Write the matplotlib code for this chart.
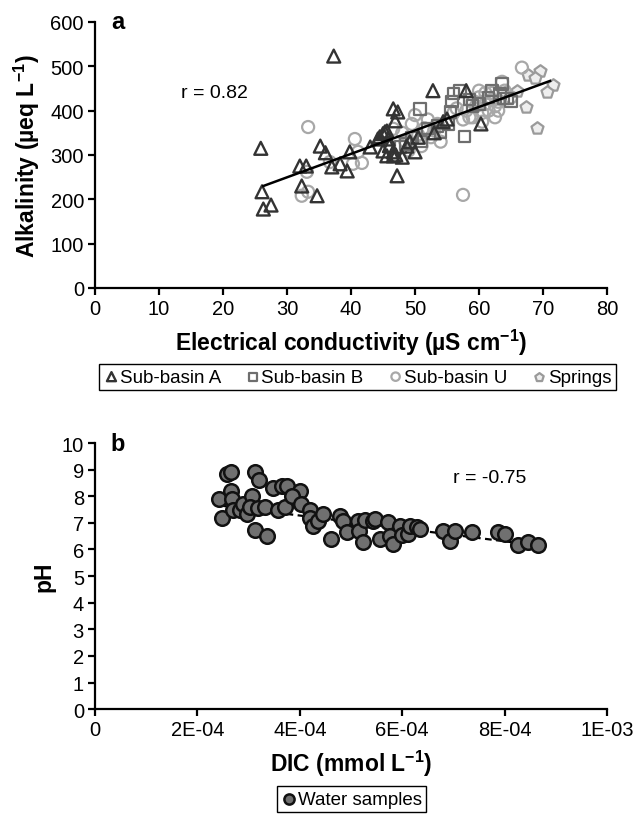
import matplotlib
matplotlib.use("Agg")
import matplotlib.pyplot as plt
import numpy as np

plt.rcParams['font.family'] = ['Liberation Sans', 'DejaVu Sans']
plt.rcParams['mathtext.fontset'] = 'custom'
plt.rcParams['mathtext.rm'] = 'Liberation Sans'
plt.rcParams['mathtext.bf'] = 'Liberation Sans:bold'

# ---- panel a: alkalinity vs electrical conductivity ----
ec_a = [37.3, 25.9, 26.1, 26.3, 27.5, 35.2, 36.0, 32.0, 33.0, 32.3, 34.7, 37.0,
        38.3, 39.4, 39.8, 43.0, 44.2, 45.0, 45.6, 45.8, 46.0, 45.0, 46.6, 46.6,
        47.3, 47.2, 52.8, 46.9, 46.6, 48.7, 50.0, 49.2, 60.3, 58.0, 54.4, 55.0,
        44.5, 45.3, 45.6, 47.0, 48.0, 53.0, 50.5]
alk_a = [523, 315, 217, 178, 187, 320, 305, 275, 275, 230, 208, 273,
         280, 264, 307, 318, 336, 348, 354, 336, 321, 309, 298, 404,
         397, 253, 445, 377, 307, 320, 307, 330, 370, 445, 375, 381,
         341, 352, 298, 300, 295, 350, 340]

ec_b = [47.7, 48.5, 50.8, 55.5, 56.0, 57.0, 55.8, 55.2, 57.7, 63.3, 64.4, 63.6,
        52.0, 53.5, 51.0, 58.5, 60.0, 61.5, 62.0, 59.0, 49.5, 54.0, 65.0, 63.8]
alk_b = [318, 325, 404, 397, 438, 445, 420, 370, 341, 438, 427, 460,
         360, 365, 330, 425, 415, 430, 445, 410, 340, 352, 420, 427]

ec_u = [33.3, 33.1, 32.3, 33.3, 36.7, 40.6, 40.3, 41.1, 41.7, 46.6, 48.0, 48.5,
        49.5, 50.0, 50.5, 51.5, 51.0, 52.0, 52.5, 53.0, 53.5, 54.0, 49.0, 57.5,
        58.0, 58.5, 59.0, 59.5, 60.0, 60.5, 61.0, 61.0, 61.5, 62.0, 62.5, 62.0,
        63.0, 63.6, 63.0, 64.0, 59.0, 57.5, 60.0, 66.7, 65.0, 56.0, 56.5, 62.5, 60.5]
alk_u = [363, 262, 208, 217, 284, 336, 280, 307, 282, 359, 350, 330,
         370, 390, 345, 360, 320, 380, 340, 355, 370, 330, 310, 210,
         400, 385, 420, 410, 430, 395, 440, 415, 400, 425, 410, 440,
         400, 465, 420, 445, 385, 380, 445, 497, 430, 395, 405, 385, 375]

ec_s = [66.0, 67.7, 69.5, 68.8, 71.6, 70.6, 67.3, 69.0]
alk_s = [445, 480, 489, 473, 458, 442, 408, 361]

trend_a_x = [26.3, 71.1]
trend_a_y = [230, 467]

# ---- panel b: pH vs DIC ----
dic = [2.58e-4, 2.66e-4, 3.13e-4, 3.20e-4, 2.42e-4, 2.48e-4, 2.66e-4, 2.68e-4,
       2.70e-4, 2.83e-4, 2.90e-4, 2.97e-4, 3.07e-4, 3.03e-4, 3.18e-4, 3.32e-4,
       3.13e-4, 3.36e-4, 3.48e-4, 3.65e-4, 3.75e-4, 4.00e-4, 3.57e-4, 3.71e-4,
       3.85e-4, 4.02e-4, 4.20e-4, 4.20e-4, 4.26e-4, 4.36e-4, 4.45e-4, 4.60e-4,
       4.78e-4, 4.85e-4, 4.92e-4, 5.14e-4, 5.16e-4, 5.24e-4, 5.27e-4, 5.43e-4,
       5.57e-4, 5.47e-4, 5.72e-4, 5.76e-4, 5.82e-4, 5.96e-4, 6.00e-4, 6.11e-4,
       6.15e-4, 6.29e-4, 6.35e-4, 6.80e-4, 6.93e-4, 7.03e-4, 7.36e-4, 7.87e-4,
       8.00e-4, 8.26e-4, 8.46e-4, 8.65e-4]
ph = [8.83, 8.90, 8.90, 8.60, 7.90, 7.20, 8.20, 7.90,
      7.50, 7.50, 7.70, 7.35, 8.00, 7.60, 7.55, 7.60,
      6.73, 6.50, 8.30, 8.40, 8.40, 8.20, 7.50, 7.60,
      8.00, 7.70, 7.50, 7.20, 6.88, 7.07, 7.33, 6.40,
      7.26, 7.07, 6.66, 7.07, 6.70, 6.28, 7.10, 7.07,
      6.40, 7.14, 7.03, 6.50, 6.20, 6.88, 6.55, 6.58,
      6.88, 6.84, 6.77, 6.70, 6.32, 6.70, 6.66, 6.66,
      6.58, 6.17, 6.28, 6.17]

trend_b_x = [2.45e-4, 8.65e-4]
trend_b_y = [7.65, 6.15]

dic_ticks = [0, 2e-4, 4e-4, 6e-4, 8e-4, 1e-3]
dic_labels = ['0', '2E-04', '4E-04', '6E-04', '8E-04', '1E-03']

fig = plt.figure(figsize=(6.42, 8.2), dpi=100)
ax_a = fig.add_axes([0.148, 0.6476, 0.7975, 0.3244])
ax_b = fig.add_axes([0.148, 0.134, 0.7975, 0.3245])

tick_fs = 14.5
label_fs = 16.5

for ax in (ax_a, ax_b):
    ax.spines['top'].set_visible(False)
    ax.spines['right'].set_visible(False)
    for s in ('left', 'bottom'):
        ax.spines[s].set_linewidth(1.6)
    ax.tick_params(direction='out', length=5, width=1.6, labelsize=tick_fs,
                   colors='black', pad=3)

ms = 75
ax_a.scatter(ec_s, alk_s, marker='p', s=ms * 1.1, facecolors='#eeeeee',
             edgecolors='#9a9a9a', linewidths=1.6, label='Springs', zorder=3)
ax_a.scatter(ec_u, alk_u, marker='o', s=ms, facecolors='none',
             edgecolors='#a8a8a8', linewidths=1.6, label='Sub-basin U', zorder=3)
ax_a.scatter(ec_b, alk_b, marker='s', s=ms * 0.9, facecolors='none',
             edgecolors='#6e6e6e', linewidths=1.6, label='Sub-basin B', zorder=3)
ax_a.scatter(ec_a, alk_a, marker='^', s=ms * 1.15, facecolors='none',
             edgecolors='#333333', linewidths=1.7, label='Sub-basin A', zorder=3)
ax_a.plot(trend_a_x, trend_a_y, color='black', lw=1.8, zorder=4)

ax_a.set_xlim(0, 80)
ax_a.set_ylim(0, 600)
ax_a.set_xticks(range(0, 81, 10))
ax_a.set_yticks(range(0, 601, 100))
ax_a.set_xlabel(r'Electrical conductivity (µS cm$^{\mathbf{-1}}$)',
                fontsize=label_fs, fontweight='bold', labelpad=6)
ax_a.set_ylabel(r'Alkalinity (µeq L$^{\mathbf{-1}}$)',
                fontsize=label_fs, fontweight='bold')
ax_a.yaxis.set_label_coords(-0.103, 0.5)
ax_a.text(18.7, 442, 'r = 0.82', fontsize=14, ha='center', va='center')
ax_a.text(0.045, 1.0, 'a', transform=ax_a.transAxes, fontsize=17,
          fontweight='bold', ha='center', va='center')

handles, labels = ax_a.get_legend_handles_labels()
order = [3, 2, 1, 0]
fig.legend([handles[i] for i in order], [labels[i] for i in order],
           loc='center', bbox_to_anchor=(0.557, 0.539), ncol=4,
           fontsize=13.5, frameon=True, fancybox=False, edgecolor='black',
           handletextpad=0.05, columnspacing=1.3, borderpad=0.25,
           handlelength=0.8, markerscale=0.7, framealpha=1)

ax_b.scatter(dic, ph, marker='o', s=110, facecolors='#707070',
             edgecolors='#111111', linewidths=1.8, label='Water samples', zorder=3)
ax_b.plot(trend_b_x, trend_b_y, color='black', lw=1.6, ls=(0, (3, 2)), zorder=2)

ax_b.set_xlim(0, 1e-3)
ax_b.set_ylim(0, 10)
ax_b.set_xticks(dic_ticks)
ax_b.set_xticklabels(dic_labels)
ax_b.set_yticks(range(0, 11))
ax_b.set_xlabel(r'DIC (mmol L$^{\mathbf{-1}}$)', fontsize=label_fs,
                fontweight='bold', labelpad=6)
ax_b.set_ylabel('pH', fontsize=label_fs, fontweight='bold')
ax_b.yaxis.set_label_coords(-0.078, 0.5)
ax_b.text(7.7e-4, 8.7, 'r = -0.75', fontsize=14, ha='center', va='center')
ax_b.text(0.045, 1.0, 'b', transform=ax_b.transAxes, fontsize=17,
          fontweight='bold', ha='center', va='center')

fig.legend(*ax_b.get_legend_handles_labels(), loc='center',
           bbox_to_anchor=(0.548, 0.0244), fontsize=13.5, frameon=True,
           fancybox=False, edgecolor='black', handletextpad=0.05,
           borderpad=0.25, handlelength=0.8, markerscale=0.7, framealpha=1)

fig.savefig('out.png', dpi=100)
